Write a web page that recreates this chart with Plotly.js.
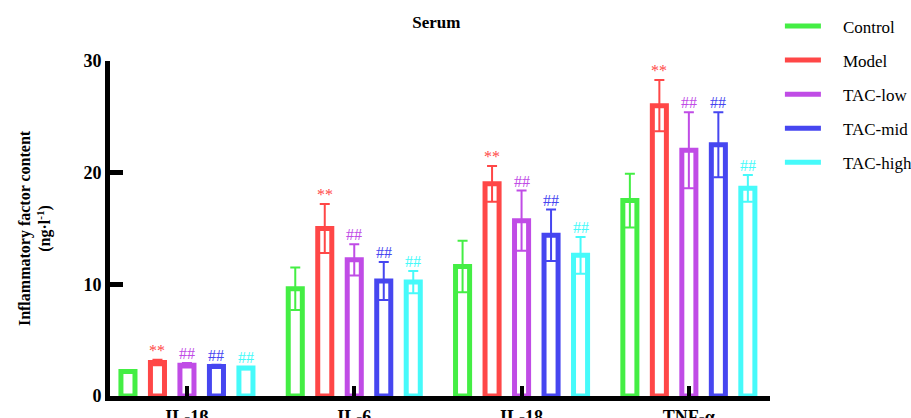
<!DOCTYPE html>
<html><head><meta charset="utf-8">
<script src="https://cdn.plot.ly/plotly-3.0.1.min.js"></script>
<style>html,body{margin:0;padding:0;background:#fff;}#chart{width:911px;height:418px;}</style>
</head><body><div id="chart"></div>
<script>
const categories = ['IL-1β', 'IL-6', 'IL-18', 'TNF-α'];
const seriesNames = ['Control', 'Model', 'TAC-low', 'TAC-mid', 'TAC-high'];
const control = [2.2, 9.6, 11.6, 17.5];
const controlSD = [0.1, 1.9, 2.3, 2.4];
const model = [3.0, 15.0, 19.0, 26.0];
const modelSD = [0.25, 2.2, 1.6, 2.3];
const tacLow = [2.75, 12.2, 15.7, 22.0];
const tacLowSD = [0.2, 1.4, 2.7, 3.4];
const tacMid = [2.65, 10.3, 14.4, 22.5];
const tacMidSD = [0.15, 1.7, 2.3, 2.9];
const tacHigh = [2.5, 10.2, 12.6, 18.6];
const tacHighSD = [0.1, 1.0, 1.65, 1.2];
const marks = ['', '**', '##', '##', '##'];

const colors = ['#44EE44', '#FF4747', '#C04CE6', '#4646F0', '#46FAFA'];
const values = [control, model, tacLow, tacMid, tacHigh];
const sds = [controlSD, modelSD, tacLowSD, tacMidSD, tacHighSD];
const serif = '"Liberation Serif", "Times New Roman", serif';
const slot = 0.1763, barW = 0.084;

const traces = [];
const annotations = [];
values.forEach((vals, s) => {
  const xs = categories.map((_, i) => i + (s - 2) * slot);
  traces.push({
    type: 'bar', x: xs, y: vals, width: barW, showlegend: false,
    marker: {color: '#ffffff', line: {color: colors[s], width: 5}},
    error_y: {type: 'data', array: sds[s], visible: true, color: colors[s], thickness: 2, width: 5},
    hoverinfo: 'skip'
  });
  if (marks[s]) {
    vals.forEach((v, i) => annotations.push({
      x: xs[i], y: v + sds[s][i], xref: 'x', yref: 'y', text: marks[s], showarrow: false,
      yanchor: 'bottom', yshift: -1, font: {family: serif, size: 16, color: colors[s]}
    }));
  }
});
seriesNames.forEach((n, s) => traces.push({
  type: 'scatter', mode: 'lines', x: [null], y: [null], name: '\u00a0\u00a0\u00a0\u00a0' + n, legendgroup: n,
  line: {color: colors[s], width: 5}
}));

const layout = {
  width: 911, height: 418,
  margin: {l: 110, r: 141, t: 61, b: 22, autoexpand: false},
  paper_bgcolor: '#fff', plot_bgcolor: '#fff',
  barmode: 'overlay',
  title: {text: '<b>Serum</b>', x: 0.479, xanchor: 'center', y: 0.947, yanchor: 'middle', font: {family: serif, size: 17, color: '#000'}},
  xaxis: {
    range: [-0.46, 3.485], tickvals: [0, 1, 2, 3], ticktext: categories.map(c => '<b>' + c + '</b>'),
    showgrid: false, zeroline: false, showline: true, linecolor: '#000', linewidth: 5,
    ticks: 'inside', ticklen: 10, tickwidth: 4, tickcolor: '#000',
    tickfont: {family: serif, size: 18, color: '#000'}
  },
  yaxis: {
    range: [0, 30], tickvals: [0, 10, 20, 30], ticktext: ['<b>0</b>', '<b>10</b>', '<b>20</b>', '<b>30</b>'],
    showgrid: false, zeroline: false, showline: true, linecolor: '#000', linewidth: 5,
    ticks: 'inside', ticklen: 13, tickwidth: 5, tickcolor: '#000',
    tickfont: {family: serif, size: 18, color: '#000'},
    title: {text: '<b>Inflammatory factor content</b><br><b>(ng·l<sup>-1</sup>)</b>', font: {family: serif, size: 16, color: '#000'}, standoff: 30}
  },
  legend: {
    x: 1.015, xanchor: 'left', y: 1.157, yanchor: 'top', traceorder: 'grouped', tracegroupgap: 9,
    font: {family: serif, size: 17, color: '#000'}, itemwidth: 36, bgcolor: 'rgba(0,0,0,0)'
  },
  annotations: annotations,
  showlegend: true
};
Plotly.newPlot('chart', traces, layout, {displayModeBar: false, staticPlot: true});
</script></body></html>
